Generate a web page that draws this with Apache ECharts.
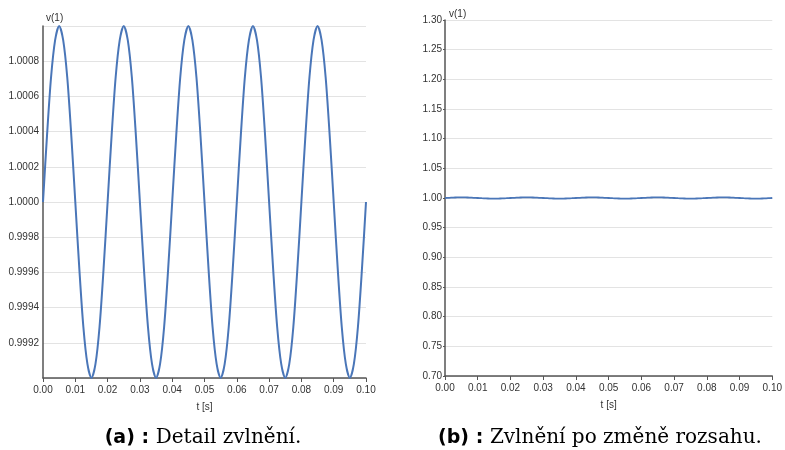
<!DOCTYPE html>
<html>
<head>
<meta charset="utf-8">
<script src="https://cdn.jsdelivr.net/npm/echarts@6/dist/echarts.min.js"></script>
<style>
  html, body { margin: 0; padding: 0; background: #fff; }
  #chart { width: 785px; height: 450px; }
</style>
</head>
<body>
<div id="chart"></div>
<script>
// čas [s] – vzorky
var tValues = [
  0.00000, 0.00125, 0.00250, 0.00375, 0.00500, 0.00625, 0.00750, 0.00875,
  0.01000, 0.01125, 0.01250, 0.01375, 0.01500, 0.01625, 0.01750, 0.01875,
  0.02000, 0.02125, 0.02250, 0.02375, 0.02500, 0.02625, 0.02750, 0.02875,
  0.03000, 0.03125, 0.03250, 0.03375, 0.03500, 0.03625, 0.03750, 0.03875,
  0.04000, 0.04125, 0.04250, 0.04375, 0.04500, 0.04625, 0.04750, 0.04875,
  0.05000, 0.05125, 0.05250, 0.05375, 0.05500, 0.05625, 0.05750, 0.05875,
  0.06000, 0.06125, 0.06250, 0.06375, 0.06500, 0.06625, 0.06750, 0.06875,
  0.07000, 0.07125, 0.07250, 0.07375, 0.07500, 0.07625, 0.07750, 0.07875,
  0.08000, 0.08125, 0.08250, 0.08375, 0.08500, 0.08625, 0.08750, 0.08875,
  0.09000, 0.09125, 0.09250, 0.09375, 0.09500, 0.09625, 0.09750, 0.09875,
  0.10000
];
// napětí v(1) – 5 period zvlnění
var vValues = [
  1.00000, 1.00038, 1.00071, 1.00092, 1.00100, 1.00092, 1.00071, 1.00038,
  1.00000, 0.99962, 0.99929, 0.99908, 0.99900, 0.99908, 0.99929, 0.99962,
  1.00000, 1.00038, 1.00071, 1.00092, 1.00100, 1.00092, 1.00071, 1.00038,
  1.00000, 0.99962, 0.99929, 0.99908, 0.99900, 0.99908, 0.99929, 0.99962,
  1.00000, 1.00038, 1.00071, 1.00092, 1.00100, 1.00092, 1.00071, 1.00038,
  1.00000, 0.99962, 0.99929, 0.99908, 0.99900, 0.99908, 0.99929, 0.99962,
  1.00000, 1.00038, 1.00071, 1.00092, 1.00100, 1.00092, 1.00071, 1.00038,
  1.00000, 0.99962, 0.99929, 0.99908, 0.99900, 0.99908, 0.99929, 0.99962,
  1.00000, 1.00038, 1.00071, 1.00092, 1.00100, 1.00092, 1.00071, 1.00038,
  1.00000, 0.99962, 0.99929, 0.99908, 0.99900, 0.99908, 0.99929, 0.99962,
  1.00000
];
var captionA = ['(a) :', 'Detail zvlnění.'];
var captionB = ['(b) :', 'Zvlnění po změně rozsahu.'];

var seriesData = tValues.map(function (t, i) { return [t, vValues[i]]; });

var LINE_COLOR = '#4a76b8';
var TEXT_COLOR = '#333';
var AXIS_COLOR = '#555';
var GRID_COLOR = '#e3e3e3';
var FONT = 'Liberation Sans, Arial, sans-serif';

function xAxisCfg(gridIndex) {
  return {
    gridIndex: gridIndex,
    type: 'value',
    min: 0, max: 0.1, interval: 0.01,
    name: 't [s]',
    nameLocation: 'middle',
    nameGap: 24,
    nameTextStyle: { color: TEXT_COLOR, fontSize: 10, fontFamily: FONT },
    axisLine: { show: true, lineStyle: { color: AXIS_COLOR, width: 1.5 } },
    axisTick: { show: true, length: 4, lineStyle: { color: AXIS_COLOR } },
    axisLabel: {
      color: TEXT_COLOR, fontSize: 10, fontFamily: FONT, margin: 7,
      formatter: function (v) { return v.toFixed(2); }
    },
    splitLine: { show: false }
  };
}

function captionText(cap) {
  return {
    text: '{a|' + cap[0] + '}  {b|' + cap[1] + '}',
    align: 'center', verticalAlign: 'middle',
    rich: {
      a: { fontFamily: 'DejaVu Sans, sans-serif', fontWeight: 'bold', fontSize: 19, fill: '#000' },
      b: { fontFamily: 'DejaVu Serif, serif', fontSize: 20, fill: '#000' }
    }
  };
}

var chart = echarts.init(document.getElementById('chart'));
var option = {
  animation: false,
  backgroundColor: '#fff',
  grid: [
    { left: 43, top: 26, width: 323, height: 352 },
    { left: 445, top: 20, width: 331, height: 356 }
  ],
  xAxis: [xAxisCfg(0), xAxisCfg(1)],
  yAxis: [
    {
      gridIndex: 0,
      type: 'value',
      min: 0.999, max: 1.001, interval: 0.0002,
      name: 'v(1)',
      nameLocation: 'end',
      nameGap: 3,
      nameTextStyle: { color: TEXT_COLOR, fontSize: 10, fontFamily: FONT, align: 'left', padding: [0, 0, 0, 3] },
      axisLine: { show: true, lineStyle: { color: AXIS_COLOR, width: 1.5 } },
      axisTick: { show: false },
      axisLabel: {
        color: TEXT_COLOR, fontSize: 10, fontFamily: FONT, margin: 4,
        showMinLabel: false, showMaxLabel: false,
        formatter: function (v) { return v.toFixed(4); }
      },
      splitLine: { show: true, lineStyle: { color: GRID_COLOR, width: 1 } }
    },
    {
      gridIndex: 1,
      type: 'value',
      min: 0.7, max: 1.3, interval: 0.05,
      name: 'v(1)',
      nameLocation: 'end',
      nameGap: 1,
      nameTextStyle: { color: TEXT_COLOR, fontSize: 10, fontFamily: FONT, align: 'left', padding: [0, 0, 0, 4] },
      axisLine: { show: true, lineStyle: { color: AXIS_COLOR, width: 1.5 } },
      axisTick: { show: true, length: 2, lineStyle: { color: AXIS_COLOR } },
      axisLabel: {
        color: TEXT_COLOR, fontSize: 10, fontFamily: FONT, margin: 3,
        formatter: function (v) { return v.toFixed(2); }
      },
      splitLine: { show: true, lineStyle: { color: GRID_COLOR, width: 1 } }
    }
  ],
  series: [
    {
      type: 'line', xAxisIndex: 0, yAxisIndex: 0,
      data: seriesData, smooth: 0.3, showSymbol: false,
      lineStyle: { color: LINE_COLOR, width: 2 }
    },
    {
      type: 'line', xAxisIndex: 1, yAxisIndex: 1,
      data: seriesData, smooth: 0.3, showSymbol: false,
      lineStyle: { color: LINE_COLOR, width: 1.8 }
    }
  ],
  graphic: [
    { type: 'text', x: 203, y: 438, style: captionText(captionA) },
    { type: 'text', x: 600, y: 438, style: captionText(captionB) }
  ]
};
chart.setOption(option);
</script>
</body>
</html>
